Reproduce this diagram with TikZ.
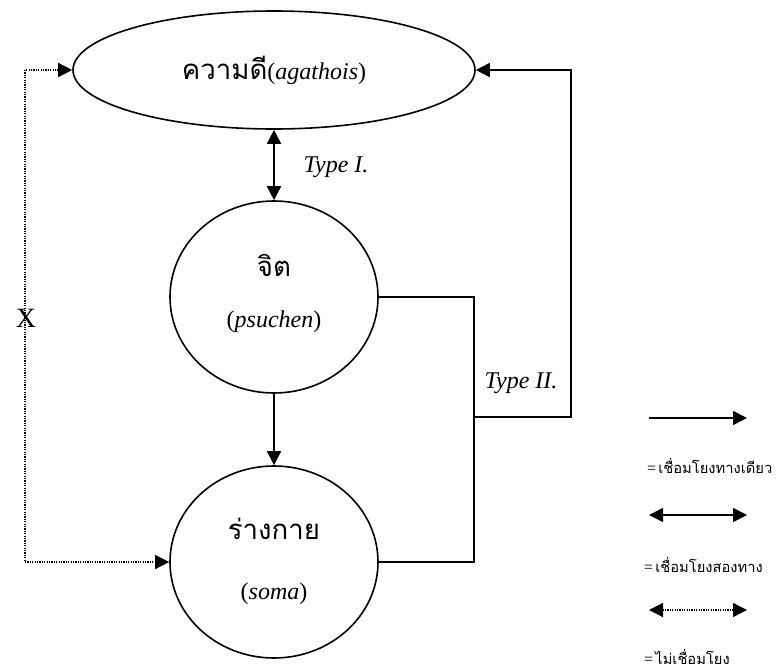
\documentclass[tikz,border=0pt]{standalone}
\usepackage{fontspec}
\setmainfont{Liberation Serif}
\newfontfamily\thai[Script=Thai,Scale=1.15]{Loma}
\usetikzlibrary{shapes.geometric,arrows.meta}
\newcommand{\legeq}{{\fontsize{16}{16}\selectfont =}\,}
\begin{document}
\begin{tikzpicture}[x=1pt,y=-1pt,
  line/.style={line width=1.6pt},
  tip/.style={-{Triangle[length=14pt,width=14pt]}},
  bitip/.style={{Triangle[length=14pt,width=14pt]}-{Triangle[length=14pt,width=14pt]}},
  dotline/.style={line width=1.3pt,dash pattern=on 1.2pt off 1.2pt},
  oval/.style={ellipse,draw,line width=1.6pt,inner sep=0pt},
  lbl/.style={font=\fontsize{24}{26}\selectfont},
  leg/.style={anchor=base west,inner sep=0pt,font=\fontsize{12.8}{15}\selectfont}]
\useasboundingbox (0,0) rectangle (779,671);

% the three entities
\node[oval,minimum width=402pt,minimum height=118pt] (good) at (274,70) {};
\node[lbl] (goodtx) at (274,70) {{\thai ความดี}(\textit{agathois})};
\node[oval,minimum width=208pt,minimum height=192pt] (mind) at (274,297) {};
\node[oval,minimum width=208pt,minimum height=192pt] (body) at (274,562) {};

\node[lbl] (mindth) at (274,265) {\thai จิต};
\node[lbl] (mindla) at (274,322) {(\textit{psuchen})};
\node[lbl] (bodyth) at (274,529) {\thai ร่างกาย};
\node[lbl] (bodyla) at (274,594) {(\textit{soma})};

% Type I: soul <-> good
\draw[line,bitip] (good.south) -- (mind.north);
\node[lbl] (t1) at (336,167) {\textit{Type I.}};

% soul -> body
\draw[line,tip] (mind.south) -- (body.north);

% Type II: soul and body together -> good
\coordinate (ja) at (474,417);
\coordinate (jb) at (571,417);
\draw[line] (mind.east) -| (ja) |- (body.east);
\draw[line,tip] (ja) -- (jb) |- (good.east);
\node[lbl] (t2) at (521,383) {\textit{Type II.}};

% no connection between body and good
\coordinate (xl) at (25,300);
\draw[dotline,bitip] (good.west) -| (xl) |- (body.west);
\node[font=\fontsize{28}{30}\selectfont] (xmark) at (26,318) {X};

% legend
\coordinate (a1) at (649,418); \coordinate (b1) at (747,418);
\coordinate (a2) at (649,515); \coordinate (b2) at (747,515);
\coordinate (a3) at (649,610); \coordinate (b3) at (747,610);
\draw[line,tip] (a1) -- (b1);
\draw[line,bitip] (a2) -- (b2);
\draw[dotline,bitip] (a3) -- (b3);
\node[leg] (l1) at (647,473) {\legeq{\thai เชื่อมโยงทางเดียว}};
\node[leg] (l2) at (644,572) {\legeq{\thai เชื่อมโยงสองทาง}};
\node[leg] (l3) at (644,664) {\legeq{\thai ไม่เชื่อมโยง}};
\end{tikzpicture}
\end{document}
